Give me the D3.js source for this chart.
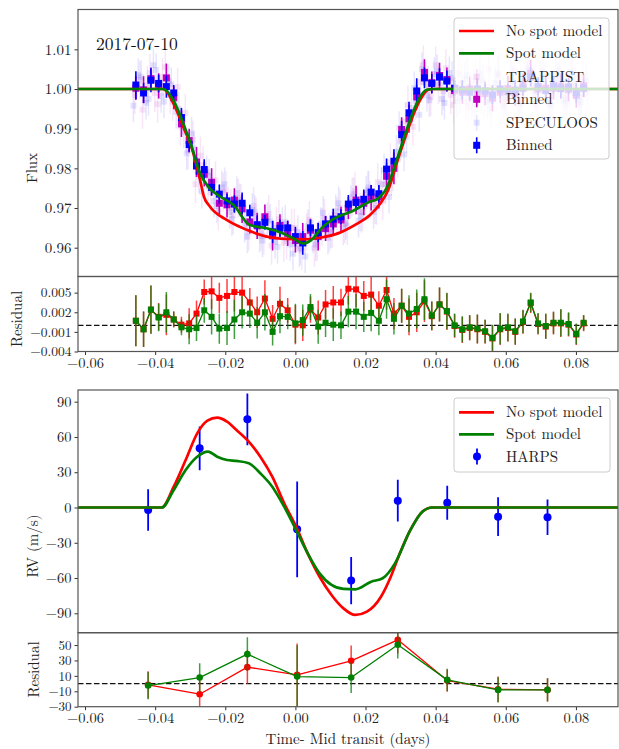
<!DOCTYPE html>
<html><head><meta charset="utf-8">
<script src="https://cdn.jsdelivr.net/npm/d3@7"></script>
<style>body{margin:0;background:#fff}svg{display:block}</style>
</head><body><svg id="c" width="619" height="749"></svg>
<script>
// ---------------- DATA ----------------
const dateLabel = "2017-07-10";
const xTicks = [-0.06,-0.04,-0.02,0.00,0.02,0.04,0.06,0.08];
const fluxTicks = [0.96,0.97,0.98,0.99,1.00,1.01];
const resTicks = [-0.004,-0.001,0.002,0.005];
const rvTicks = [-90,-60,-30,0,30,60,90];
const rvResTicks = [-30,-10,10,30,50];

const binTimes = [-0.0455,-0.0433,-0.0412,-0.0390,-0.0368,-0.0347,-0.0325,-0.0303,-0.0282,-0.0260,-0.0239,-0.0217,-0.0195,-0.0174,-0.0152,-0.0130,-0.0109,-0.0087,-0.0065,-0.0044,-0.0022,0.0000,0.0021,0.0043,0.0065,0.0086,0.0108,0.0130,0.0151,0.0173,0.0195,0.0216,0.0238,0.0260,0.0281,0.0303,0.0324,0.0346,0.0368,0.0389,0.0411,0.0432,0.0454,0.0476,0.0497,0.0519,0.0541,0.0562,0.0584,0.0606,0.0627,0.0649,0.0671,0.0692,0.0714,0.0736,0.0757,0.0779,0.0801,0.0822];

const specBinned = [1.0010,0.9990,1.0022,1.0014,1.0006,0.9990,0.9928,0.9860,0.9806,0.9797,0.9752,0.9735,0.9718,0.9710,0.9712,0.9688,0.9658,0.9664,0.9640,0.9649,0.9650,0.9628,0.9612,0.9650,0.9638,0.9660,0.9672,0.9678,0.9710,0.9714,0.9722,0.9740,0.9736,0.9798,0.9818,0.9885,0.9940,0.9995,1.0028,1.0014,1.0030,1.0020,1.0002,0.9998,0.9992,1.0000,0.9995,0.9985,1.0000,0.9993,0.9997,1.0002,1.0030,1.0006,0.9996,1.0008,1.0001,1.0005,0.9990,1.0002];
const specBinnedErr = [0.0035,0.0025,0.0030,0.0022,0.0028,0.0020,0.0024,0.0018,0.0022,0.0026,0.0020,0.0024,0.0018,0.0022,0.0027,0.0020,0.0023,0.0019,0.0028,0.0022,0.0018,0.0025,0.0030,0.0021,0.0024,0.0020,0.0026,0.0019,0.0023,0.0021,0.0025,0.0018,0.0022,0.0027,0.0030,0.0035,0.0028,0.0032,0.0026,0.0024,0.0022,0.0026,0.0020,0.0024,0.0021,0.0025,0.0019,0.0023,0.0022,0.0020,0.0026,0.0018,0.0024,0.0021,0.0025,0.0020,0.0023,0.0019,0.0024,0.0022];
const trapBinned = [1.0002,0.9998,1.0026,1.0008,1.0028,0.9978,0.9912,0.9870,0.9816,0.9785,0.9765,0.9712,0.9708,0.9720,0.9698,0.9665,0.9655,0.9678,0.9630,0.9656,0.9636,0.9618,0.9628,0.9644,0.9628,0.9648,0.9660,0.9670,0.9700,0.9720,0.9712,0.9726,0.9728,0.9780,0.9800,0.9898,0.9925,0.9980,1.0042,1.0016,1.0034,1.0024,0.9996,0.9992,1.0000,0.9992,0.9989,0.9977,0.9992,1.0001,0.9989,1.0010,1.0040,1.0000,1.0002,1.0002,1.0007,0.9999,0.9984,1.0008];
const trapBinnedErr = [0.0030,0.0034,0.0028,0.0032,0.0036,0.0029,0.0033,0.0030,0.0038,0.0031,0.0035,0.0028,0.0032,0.0030,0.0036,0.0029,0.0033,0.0031,0.0037,0.0028,0.0032,0.0030,0.0034,0.0029,0.0035,0.0031,0.0030,0.0033,0.0028,0.0036,0.0030,0.0032,0.0029,0.0034,0.0040,0.0031,0.0035,0.0030,0.0033,0.0028,0.0032,0.0030,0.0034,0.0029,0.0031,0.0035,0.0030,0.0033,0.0028,0.0032,0.0031,0.0029,0.0034,0.0030,0.0033,0.0028,0.0032,0.0030,0.0031,0.0029];

const specRawT = [-0.0462,-0.0448,-0.0440,-0.0426,-0.0419,-0.0405,-0.0397,-0.0383,-0.0375,-0.0361,-0.0354,-0.0340,-0.0332,-0.0318,-0.0310,-0.0296,-0.0289,-0.0275,-0.0267,-0.0253,-0.0246,-0.0232,-0.0224,-0.0210,-0.0202,-0.0188,-0.0181,-0.0167,-0.0159,-0.0145,-0.0137,-0.0123,-0.0116,-0.0102,-0.0094,-0.0080,-0.0072,-0.0058,-0.0051,-0.0037,-0.0029,-0.0015,-0.0007,0.0007,0.0014,0.0028,0.0036,0.0050,0.0058,0.0072,0.0079,0.0093,0.0101,0.0115,0.0123,0.0137,0.0144,0.0158,0.0166,0.0180,0.0188,0.0202,0.0209,0.0223,0.0231,0.0245,0.0253,0.0267,0.0274,0.0288,0.0296,0.0310,0.0317,0.0331,0.0339,0.0353,0.0361,0.0375,0.0382,0.0396,0.0404,0.0418,0.0425,0.0439,0.0447,0.0461,0.0469,0.0483,0.0490,0.0504,0.0512,0.0526,0.0534,0.0548,0.0555,0.0569,0.0577,0.0591,0.0599,0.0613,0.0620,0.0634,0.0642,0.0656,0.0664,0.0678,0.0685,0.0699,0.0707,0.0721,0.0729,0.0743,0.0750,0.0764,0.0772,0.0786,0.0794,0.0808,0.0815,0.0829];
const specRawF = [0.9958,1.0035,1.0030,0.9965,0.9975,1.0060,1.0048,0.9982,0.9968,1.0020,1.0012,0.9942,0.9950,0.9892,0.9838,0.9888,0.9850,0.9780,0.9741,0.9790,0.9782,0.9718,0.9705,0.9752,0.9760,0.9690,0.9672,0.9738,0.9720,0.9655,0.9628,0.9695,0.9690,0.9630,0.9618,0.9672,0.9668,0.9615,0.9602,0.9660,0.9665,0.9608,0.9585,0.9640,0.9598,0.9578,0.9655,0.9628,0.9608,0.9660,0.9688,0.9625,0.9640,0.9692,0.9712,0.9648,0.9662,0.9715,0.9735,0.9668,0.9680,0.9738,0.9752,0.9690,0.9700,0.9760,0.9795,0.9728,0.9772,0.9842,0.9902,0.9835,0.9880,0.9952,1.0002,0.9935,1.0050,0.9985,0.9972,1.0038,1.0045,0.9975,0.9965,1.0040,1.0028,0.9970,0.9978,1.0025,1.0035,0.9972,0.9962,1.0040,1.0022,0.9968,0.9970,1.0015,1.0040,0.9958,0.9980,1.0032,1.0018,0.9972,0.9966,1.0038,1.0050,0.9995,0.9985,1.0028,1.0030,0.9965,0.9960,1.0035,1.0025,0.9970,0.9975,1.0042,1.0012,0.9962,0.9968,1.0020];
const trapRawT = [-0.0458,-0.0444,-0.0436,-0.0422,-0.0415,-0.0401,-0.0393,-0.0379,-0.0371,-0.0357,-0.0350,-0.0336,-0.0328,-0.0314,-0.0306,-0.0292,-0.0285,-0.0271,-0.0263,-0.0249,-0.0242,-0.0228,-0.0220,-0.0206,-0.0198,-0.0184,-0.0177,-0.0163,-0.0155,-0.0141,-0.0133,-0.0119,-0.0112,-0.0098,-0.0090,-0.0076,-0.0068,-0.0054,-0.0047,-0.0033,-0.0025,-0.0011,-0.0003,0.0011,0.0018,0.0032,0.0040,0.0054,0.0062,0.0076,0.0083,0.0097,0.0105,0.0119,0.0127,0.0141,0.0148,0.0162,0.0170,0.0184,0.0192,0.0206,0.0213,0.0227,0.0235,0.0249,0.0257,0.0271,0.0278,0.0292,0.0300,0.0314,0.0321,0.0335,0.0343,0.0357,0.0365,0.0379,0.0386,0.0400,0.0408,0.0422,0.0429,0.0443,0.0451,0.0465,0.0473,0.0487,0.0494,0.0508,0.0516,0.0530,0.0538,0.0552,0.0559,0.0573,0.0581,0.0595,0.0603,0.0617,0.0624,0.0638,0.0646,0.0660,0.0668,0.0682,0.0689,0.0703,0.0711,0.0725,0.0733,0.0747,0.0754,0.0768,0.0776,0.0790,0.0798,0.0812,0.0819,0.0833];
const trapRawF = [0.9985,1.0022,0.9948,1.0010,1.0040,0.9990,0.9962,1.0030,1.0055,0.9985,0.9968,1.0005,0.9905,0.9940,0.9845,0.9872,0.9760,0.9832,0.9808,0.9755,0.9740,0.9770,0.9692,0.9740,0.9745,0.9700,0.9682,0.9725,0.9712,0.9668,0.9640,0.9705,0.9678,0.9640,0.9630,0.9685,0.9605,0.9655,0.9672,0.9612,0.9618,0.9650,0.9650,0.9598,0.9592,0.9640,0.9670,0.9600,0.9615,0.9652,0.9675,0.9638,0.9648,0.9680,0.9700,0.9660,0.9655,0.9728,0.9742,0.9690,0.9690,0.9745,0.9720,0.9708,0.9765,0.9718,0.9760,0.9815,0.9790,0.9825,0.9870,0.9918,0.9960,0.9905,0.9970,1.0018,1.0062,1.0010,0.9980,1.0060,1.0010,0.9995,1.0052,0.9985,0.9960,1.0040,1.0015,0.9968,0.9955,1.0020,1.0030,0.9985,0.9975,1.0050,0.9950,0.9990,1.0035,0.9975,0.9968,1.0022,1.0045,0.9962,0.9990,1.0028,1.0058,1.0010,0.9958,1.0045,1.0020,0.9972,0.9980,1.0015,1.0048,0.9985,0.9962,1.0030,1.0010,0.9978,1.0030,0.9995];
const specRawErr = 0.0042;
const trapRawErr = 0.0048;

// light-curve models
const noSpotFluxT = [-0.062,-0.0377,-0.0348,-0.0320,-0.0291,-0.0272,-0.0261,-0.0244,-0.0196,-0.0139,-0.0082,-0.0025,0.0022,0.0070,0.0127,0.0175,0.0212,0.0241,0.0265,0.0289,0.0317,0.0346,0.0379,0.0393,0.092];
const noSpotFlux = [1.0,1.0,0.9964,0.9905,0.9838,0.9771,0.9729,0.9704,0.9670,0.9645,0.9628,0.9622,0.9621,0.9625,0.9638,0.9660,0.9682,0.9710,0.9746,0.9813,0.9888,0.9955,0.9998,1.0,1.0];
const spotFluxT = [-0.062,-0.0377,-0.0348,-0.0320,-0.0296,-0.0272,-0.0249,-0.0215,-0.0177,-0.0130,-0.0082,-0.0035,-0.0006,0.0022,0.0051,0.0070,0.0108,0.0165,0.0212,0.0232,0.0260,0.0289,0.0317,0.0346,0.0374,0.0393,0.092];
const spotFlux = [1.0,1.0,0.9972,0.9914,0.9855,0.9788,0.9754,0.9729,0.9708,0.9657,0.9649,0.9636,0.9624,0.9611,0.9624,0.9645,0.9672,0.9693,0.9716,0.9722,0.9750,0.9821,0.9897,0.9964,0.9998,1.0,1.0];

// photometric residuals (binned)
const resNoSpotLC = [0.0007,-0.0006,0.0024,0.0013,0.0016,0.0009,0.0001,0.0003,0.0018,0.0051,0.0052,0.0042,0.0045,0.0051,0.0050,0.0035,0.0020,0.0041,0.0010,0.0033,0.0023,0.0001,0.0000,0.0024,0.0012,0.0032,0.0035,0.0035,0.0056,0.0055,0.0045,0.0047,0.0030,0.0054,0.0018,0.0030,0.0013,0.0020,0.0037,0.0014,0.0032,0.0021,-0.0001,-0.0007,-0.0004,-0.0006,-0.0010,-0.0020,-0.0006,-0.0004,-0.0010,0.0005,0.0034,0.0002,-0.0002,0.0003,0.0003,0.0001,-0.0014,0.0003];
const resSpotLC = [0.0007,-0.0006,0.0024,0.0012,0.0020,0.0009,-0.0003,-0.0006,-0.0004,0.0023,0.0013,-0.0005,-0.0004,0.0009,0.0020,0.0018,0.0004,0.0020,-0.0010,0.0014,0.0013,0.0003,0.0008,0.0028,-0.0002,0.0004,0.0001,0.0000,0.0021,0.0021,0.0013,0.0019,0.0007,0.0040,0.0010,0.0030,0.0018,0.0025,0.0040,0.0015,0.0032,0.0022,0.0000,-0.0006,-0.0003,-0.0005,-0.0009,-0.0019,-0.0005,-0.0003,-0.0009,0.0006,0.0035,0.0003,-0.0001,0.0004,0.0004,0.0002,-0.0013,0.0004];
const resLCErr = [0.0039,0.0027,0.0037,0.0021,0.0031,0.0012,0.0012,0.0023,0.0020,0.0019,0.0027,0.0023,0.0026,0.0030,0.0025,0.0022,0.0024,0.0028,0.0021,0.0026,0.0019,0.0030,0.0024,0.0020,0.0026,0.0022,0.0025,0.0021,0.0024,0.0027,0.0023,0.0028,0.0022,0.0030,0.0024,0.0026,0.0028,0.0030,0.0032,0.0022,0.0026,0.0028,0.0018,0.0020,0.0019,0.0022,0.0018,0.0020,0.0024,0.0021,0.0020,0.0018,0.0015,0.0016,0.0019,0.0017,0.0021,0.0018,0.0016,0.0012];

// RV
const harpsT = [-0.0420,-0.0273,-0.0137,0.0005,0.0159,0.0292,0.0433,0.0578,0.0719];
const harpsRV = [-2.1,50.3,75.0,-18.6,-62.2,5.8,4.1,-7.8,-8.3];
const harpsErr = [17.6,18.7,22.0,40.7,20.0,17.7,14.5,16.5,15.0];
const resNoSpotRV = [-1.7,-13.8,21.3,11.3,29.5,56.8,3.9,-7.3,-8.2];
const resSpotRV = [-2.6,7.8,38.2,9.1,7.8,50.3,4.8,-8.2,-8.2];

const noSpotRVT = [-0.062,-0.0381,-0.0347,-0.0313,-0.0280,-0.0251,-0.0223,-0.0195,-0.0168,-0.0133,-0.0100,-0.0066,-0.0032,0.0002,0.0035,0.0069,0.0103,0.0137,0.0171,0.0204,0.0244,0.0272,0.0294,0.0328,0.0362,0.0390,0.092];
const noSpotRV = [0,0,17.7,40.4,63.1,73.9,76.4,73.0,65.9,56.0,43.2,26.2,3.6,-16.3,-39.0,-58.9,-74.4,-85.8,-91.4,-88.6,-75.9,-58.9,-41.9,-19.1,-3.6,0,0];
const spotRVT = [-0.062,-0.0381,-0.0347,-0.0313,-0.0280,-0.0249,-0.0223,-0.0195,-0.0168,-0.0133,-0.0100,-0.0066,-0.0032,0.0002,0.0035,0.0069,0.0103,0.0137,0.0171,0.0216,0.0249,0.0284,0.0328,0.0362,0.0390,0.092];
const spotRV = [0,0,14.9,31.9,43.2,47.5,43.2,40.4,39.6,37.6,29.1,17.7,0.7,-19.1,-39.0,-56.0,-65.9,-69.3,-69.6,-63.1,-60.2,-47.5,-19.1,-3.6,0,0];

// ---------------- DRAW ----------------
const FONT = '"Latin Modern Roman","CMU Serif","Liberation Serif",serif';
const RED="#ff0000", GREEN="#008000", BLUE="#0000ff", MAG="#bf00bf";
const svg = d3.select("#c");
const X0=78, X1=618;
const x = d3.scaleLinear().domain([-0.062,0.092]).range([X0,X1]);

const P = {
  flux:{y0:9.5,y1:276.5, scale:d3.scaleLinear().domain([0.95274,1.02004]).range([276.5,9.5])},
  res:{y0:276.5,y1:351.5, scale:d3.scaleLinear().domain([-0.004,0.00747]).range([351.5,276.5])},
  rv:{y0:390,y1:632.7, scale:d3.scaleLinear().domain([-106.5,99.95]).range([632.7,390])},
  rvres:{y0:632.7,y1:706.7, scale:d3.scaleLinear().domain([-30,66]).range([706.7,632.7])}
};
const defs = svg.append("defs");
Object.entries(P).forEach(([k,p])=>{
  defs.append("clipPath").attr("id","clip-"+k).append("rect")
    .attr("x",X0).attr("y",p.y0).attr("width",X1-X0).attr("height",p.y1-p.y0);
  p.g = svg.append("g").attr("clip-path","url(#clip-"+k+")");
});

function errBars(g, ts, vs, es, y, color, width, opacity){
  g.append("g").selectAll("line").data(ts).join("line")
    .attr("x1",(d)=>x(d)).attr("x2",(d)=>x(d))
    .attr("y1",(d,i)=>y(vs[i]-(Array.isArray(es)?es[i]:es)))
    .attr("y2",(d,i)=>y(vs[i]+(Array.isArray(es)?es[i]:es)))
    .attr("stroke",color).attr("stroke-width",width).attr("stroke-opacity",opacity);
}
function squares(g, ts, vs, y, color, size, opacity){
  g.append("g").selectAll("rect").data(ts).join("rect")
    .attr("x",(d)=>x(d)-size/2).attr("y",(d,i)=>y(vs[i])-size/2)
    .attr("width",size).attr("height",size).attr("fill",color).attr("fill-opacity",opacity);
}
function circles(g, ts, vs, y, color, r){
  g.append("g").selectAll("circle").data(ts).join("circle")
    .attr("cx",(d)=>x(d)).attr("cy",(d,i)=>y(vs[i])).attr("r",r).attr("fill",color);
}
function curve(g, ts, vs, y, color, w, c){
  g.append("path").datum(ts).attr("fill","none").attr("stroke",color).attr("stroke-width",w)
    .attr("stroke-linejoin","round")
    .attr("d", d3.line().x((d)=>x(d)).y((d,i)=>y(vs[i])).curve(c||d3.curveMonotoneX));
}

// ---- flux panel
{
  const g=P.flux.g, y=P.flux.scale;
  errBars(g,trapRawT,trapRawF,trapRawErr,y,MAG,1.5,0.1);
  squares(g,trapRawT,trapRawF,y,MAG,6,0.1);
  errBars(g,specRawT,specRawF,specRawErr,y,BLUE,1.5,0.1);
  squares(g,specRawT,specRawF,y,BLUE,6,0.1);
  errBars(g,binTimes,trapBinned,trapBinnedErr,y,MAG,1.6,1);
  squares(g,binTimes,trapBinned,y,MAG,7,1);
  errBars(g,binTimes,specBinned,specBinnedErr,y,BLUE,1.6,1);
  squares(g,binTimes,specBinned,y,BLUE,7,1);
  curve(g,noSpotFluxT,noSpotFlux,y,RED,2.7);
  curve(g,spotFluxT,spotFlux,y,GREEN,2.7);
}
// ---- LC residual panel
{
  const g=P.res.g, y=P.res.scale;
  g.append("line").attr("x1",X0).attr("x2",X1).attr("y1",y(0)).attr("y2",y(0))
    .attr("stroke","#111").attr("stroke-width",1.4).attr("stroke-dasharray","5.5,2.5");
  errBars(g,binTimes,resNoSpotLC,resLCErr,y,RED,1.5,0.75);
  curve(g,binTimes,resNoSpotLC,y,RED,1.3,d3.curveLinear);
  squares(g,binTimes,resNoSpotLC,y,RED,6,1);
  errBars(g,binTimes,resSpotLC,resLCErr,y,GREEN,1.5,0.75);
  curve(g,binTimes,resSpotLC,y,GREEN,1.3,d3.curveLinear);
  squares(g,binTimes,resSpotLC,y,GREEN,6,1);
}
// ---- RV panel
{
  const g=P.rv.g, y=P.rv.scale;
  errBars(g,harpsT,harpsRV,harpsErr,y,BLUE,1.8,1);
  circles(g,harpsT,harpsRV,y,BLUE,4);
  curve(g,noSpotRVT,noSpotRV,y,RED,2.7);
  curve(g,spotRVT,spotRV,y,GREEN,2.7);
}
// ---- RV residual panel
{
  const g=P.rvres.g, y=P.rvres.scale;
  g.append("line").attr("x1",X0).attr("x2",X1).attr("y1",y(0)).attr("y2",y(0))
    .attr("stroke","#111").attr("stroke-width",1.4).attr("stroke-dasharray","5.5,2.5");
  errBars(g,harpsT,resNoSpotRV,harpsErr,y,RED,1.5,0.75);
  curve(g,harpsT,resNoSpotRV,y,RED,1.3,d3.curveLinear);
  circles(g,harpsT,resNoSpotRV,y,RED,3.3);
  errBars(g,harpsT,resSpotRV,harpsErr,y,GREEN,1.5,0.75);
  curve(g,harpsT,resSpotRV,y,GREEN,1.3,d3.curveLinear);
  circles(g,harpsT,resSpotRV,y,GREEN,3.3);
}

// ---- axes
function styleAxis(fs){
  return (sel)=>{
    sel.attr("font-family",FONT).attr("font-size",fs);
    sel.select(".domain").remove();
    sel.selectAll(".tick line").attr("stroke","#333").attr("stroke-width",1);
    sel.selectAll(".tick text").attr("fill","#222");
  };
}
const minus = (s)=>s.replace("-","\u2212");
svg.append("g").attr("transform",`translate(${X0},0)`)
  .call(d3.axisLeft(P.flux.scale).tickValues(fluxTicks).tickFormat((d)=>minus(d3.format(".2f")(d))).tickSize(3.5).tickPadding(3)).call(styleAxis(15));
svg.append("g").attr("transform",`translate(${X0},0)`)
  .call(d3.axisLeft(P.res.scale).tickValues(resTicks).tickFormat((d)=>minus(d3.format(".3f")(d))).tickSize(3.5).tickPadding(3)).call(styleAxis(13.5));
svg.append("g").attr("transform",`translate(${X0},0)`)
  .call(d3.axisLeft(P.rv.scale).tickValues(rvTicks).tickFormat((d)=>minus(d3.format("d")(d))).tickSize(3.5).tickPadding(3)).call(styleAxis(14.5));
svg.append("g").attr("transform",`translate(${X0},0)`)
  .call(d3.axisLeft(P.rvres.scale).tickValues(rvResTicks).tickFormat((d)=>minus(d3.format("d")(d))).tickSize(3.5).tickPadding(3)).call(styleAxis(13));
svg.append("g").attr("transform",`translate(0,${P.res.y1})`)
  .call(d3.axisBottom(x).tickValues(xTicks).tickFormat((d)=>minus(d3.format(".2f")(d))).tickSize(3.5).tickPadding(3)).call(styleAxis(14.5));
svg.append("g").attr("transform",`translate(0,${P.rvres.y1})`)
  .call(d3.axisBottom(x).tickValues(xTicks).tickFormat((d)=>minus(d3.format(".2f")(d))).tickSize(3.5).tickPadding(3)).call(styleAxis(14.5));

// frames
Object.values(P).forEach((p)=>{
  svg.append("rect").attr("x",X0).attr("y",p.y0).attr("width",X1-X0).attr("height",p.y1-p.y0)
    .attr("fill","none").attr("stroke","#555").attr("stroke-width",1.2);
});

// labels
function txt(sel){ return sel.attr("font-family",FONT).attr("fill","#222"); }
function ylab(t,xb,yc){
  txt(svg.append("text")).attr("transform",`translate(${xb},${yc}) rotate(-90)`).attr("text-anchor","middle")
    .attr("font-size",15).text(t);
}
ylab("Flux",37,168);
ylab("Residual",21.5,319);
ylab("RV (m/s)",38,546);
ylab("Residual",39,669.5);
txt(svg.append("text")).attr("x",348).attr("y",744).attr("text-anchor","middle")
  .attr("font-size",15).text("Time- Mid transit (days)");
txt(svg.append("text")).attr("x",96).attr("y",50).attr("fill","#111").attr("font-size",17.5).text(dateLabel);

// legends
function legendBox(x0,y0,w,h){
  svg.append("rect").attr("x",x0).attr("y",y0).attr("width",w).attr("height",h).attr("rx",3)
    .attr("fill","#fff").attr("fill-opacity",0.8).attr("stroke","#ccc").attr("stroke-width",1);
}
function legText(t,yc){
  txt(svg.append("text")).attr("x",506).attr("y",yc+5).attr("font-size",15).text(t);
}
function legLine(color,yc){
  svg.append("line").attr("x1",459).attr("x2",494).attr("y1",yc).attr("y2",yc).attr("stroke",color).attr("stroke-width",2.7);
}
function legSq(color,yc,op,size){
  svg.append("line").attr("x1",476.7).attr("x2",476.7).attr("y1",yc-8).attr("y2",yc+8)
    .attr("stroke",color).attr("stroke-width",1.6).attr("stroke-opacity",op);
  svg.append("rect").attr("x",476.7-size/2).attr("y",yc-size/2).attr("width",size).attr("height",size)
    .attr("fill",color).attr("fill-opacity",op);
}
legendBox(454,18,155,141);
legLine(RED,31); legText("No spot model",31);
legLine(GREEN,53.3); legText("Spot model",53.3);
legSq(MAG,76.7,0.1,6); legText("TRAPPIST",76.7);
legSq(MAG,99.3,1,7); legText("Binned",99.3);
legSq(BLUE,122.7,0.1,6); legText("SPECULOOS",122.7);
legSq(BLUE,145.3,1,7); legText("Binned",145.3);

legendBox(454,398,156,74);
legLine(RED,412.3); legText("No spot model",412.3);
legLine(GREEN,434.3); legText("Spot model",434.3);
svg.append("line").attr("x1",477).attr("x2",477).attr("y1",448.5).attr("y2",464.5).attr("stroke",BLUE).attr("stroke-width",1.8);
svg.append("circle").attr("cx",477).attr("cy",456.5).attr("r",4).attr("fill",BLUE);
legText("HARPS",456.7);
</script></body></html>
